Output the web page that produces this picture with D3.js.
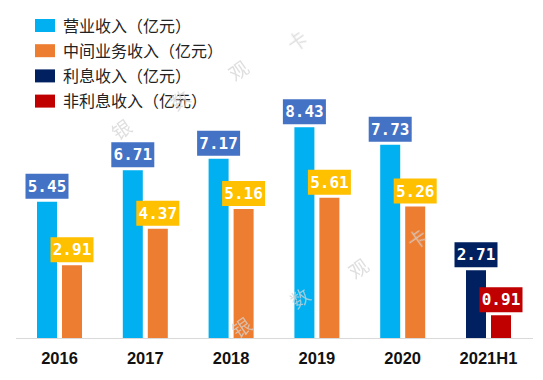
<!DOCTYPE html>
<html><head><meta charset="utf-8">
<script src="https://cdn.jsdelivr.net/npm/d3@7/dist/d3.min.js"></script>
<style>html,body{margin:0;padding:0;background:#fff;}svg{display:block;}</style>
</head><body>
<svg id="chart" width="543" height="380"></svg>
<script>
const categories = ["2016","2017","2018","2019","2020","2021H1"];
const seriesNames = ["营业收入（亿元）","中间业务收入（亿元）","利息收入（亿元）","非利息收入（亿元）"];
const revenue    = [5.45, 6.71, 7.17, 8.43, 7.73, null];
const midBiz     = [2.91, 4.37, 5.16, 5.61, 5.26, null];
const interest   = [null, null, null, null, null, 2.71];
const nonInterest= [null, null, null, null, null, 0.91];
const seriesValues = [revenue, midBiz, interest, nonInterest];
const seriesSlot = [0, 1, 0, 1];
const barColors = ["#00B0F0", "#ED7D31", "#002060", "#C00000"];
const labelColors = ["#4472C4", "#FFC000", "#002060", "#C00000"];
const watermark = ["银","数","观","卡"];

const svg = d3.select("#chart");
const baseY = 338;
const y = d3.scaleLinear().domain([0, 10]).range([baseY, 88]);
const x0 = d3.scaleBand().domain(categories).range([16.6, 531.4])
  .paddingInner(1 - 45/85.8).paddingOuter((1 - 45/85.8)/2);
const x1 = d3.scaleBand().domain([0,1]).range([0, x0.bandwidth()]).paddingInner(0.2);

// axis line
svg.append("line").attr("x1", 16).attr("x2", 533).attr("y1", baseY + 0.5).attr("y2", baseY + 0.5)
  .attr("stroke", "#d9d9d9").attr("stroke-width", 1);

// x axis labels
const xAxis = d3.axisBottom(x0).tickSize(0).tickPadding(14);
const gx = svg.append("g").attr("transform", `translate(0,${baseY})`).call(xAxis);
gx.select(".domain").remove();
gx.selectAll("text").attr("font-family", "'Liberation Sans', Arial, sans-serif")
  .attr("font-weight", "bold").attr("font-size", "16.5px").attr("fill", "#111");

// bars + labels
seriesValues.forEach((vals, si) => {
  const data = categories.map((c, i) => ({c, v: vals[i]})).filter(d => d.v != null);
  const g = svg.append("g");
  g.selectAll("rect.bar").data(data).enter().append("rect").attr("class", "bar")
    .attr("x", d => x0(d.c) + x1(seriesSlot[si]))
    .attr("width", x1.bandwidth())
    .attr("y", d => y(d.v))
    .attr("height", d => baseY - y(d.v))
    .attr("fill", barColors[si]);
  const lab = g.selectAll("g.lab").data(data).enter().append("g").attr("class", "lab")
    .attr("transform", d => `translate(${x0(d.c) + x1(seriesSlot[si]) + x1.bandwidth()/2},${y(d.v) - 3})`);
  lab.append("rect").attr("x", -21.5).attr("y", -25).attr("width", 43).attr("height", 25)
    .attr("fill", labelColors[si]);
  lab.append("text").attr("x", 0).attr("y", -7).attr("text-anchor", "middle")
    .attr("font-family", "'DejaVu Sans Mono', monospace").attr("font-weight", "bold")
    .attr("font-size", "16px").attr("fill", "#fff").text(d => d.v.toFixed(2));
});

// legend
const legend = svg.append("g");
seriesNames.forEach((n, i) => {
  const cy = 25.5 + i * 25.2;
  legend.append("rect").attr("x", 35).attr("y", cy - 6.5).attr("width", 20).attr("height", 13)
    .attr("fill", barColors[i]);
  legend.append("text").attr("x", 63).attr("y", cy + 6).attr("font-family", "'Noto Sans CJK SC', sans-serif")
    .attr("font-size", "16px").attr("fill", "#222").text(n);
});

// watermark
const wm = svg.append("g").attr("font-family", "'Noto Sans CJK SC', sans-serif").attr("font-size", "19px")
  .attr("fill", "#d4d4d4").attr("opacity", 0.75).attr("text-anchor", "middle");
const rows = [[122, 130], [242, 328]];
rows.forEach(([sx, sy]) => {
  watermark.forEach((ch, k) => {
    const px = sx + k * 58.5, py = sy - k * 29.5;
    wm.append("text").attr("transform", `translate(${px},${py}) rotate(-35)`).attr("dy", "0.35em").text(ch);
  });
});
</script>
</body></html>
